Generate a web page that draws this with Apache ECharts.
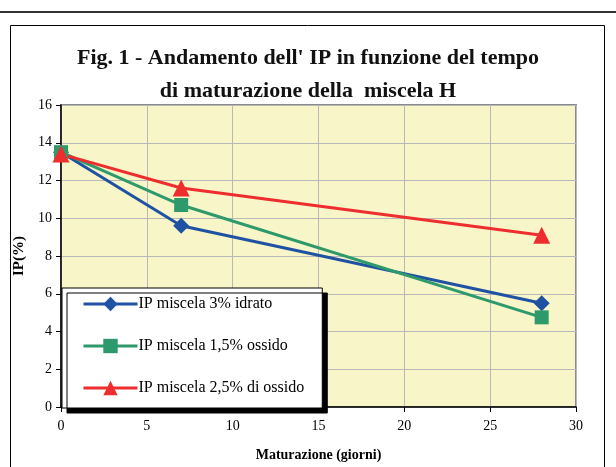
<!DOCTYPE html>
<html>
<head>
<meta charset="utf-8">
<script src="https://cdn.jsdelivr.net/npm/echarts@6/dist/echarts.min.js"></script>
<style>
  html, body { margin: 0; padding: 0; background: #fff; }
  #chart { width: 616px; height: 467px; }
</style>
</head>
<body>
<div id="chart"></div>
<script>
// giorni di maturazione
var days = [0, 7, 28];
// IP (%) per ciascuna miscela
var ipIdrato3 = [13.5, 9.6, 5.5];
var ipOssido15 = [13.5, 10.7, 4.75];
var ipOssido25 = [13.4, 11.6, 9.1];
var seriesNames = ['IP miscela 3% idrato', 'IP miscela 1,5% ossido', 'IP miscela 2,5% di ossido'];

var serif = '"Liberation Serif", "Times New Roman", serif';
var chart = echarts.init(document.getElementById('chart'));

function mkSeries(name, vals, color, symbol, size) {
    return {
        name: name,
        type: 'line',
        data: days.map(function(d, i) { return [d, vals[i]]; }),
        symbol: symbol,
        symbolSize: size,
        lineStyle: { color: color, width: 3 },
        itemStyle: { color: color },
        clip: false,
        animation: false
    };
}

chart.setOption({
    animation: false,
    title: {
        text: "Fig. 1 - Andamento dell' IP in funzione del tempo\ndi maturazione della  miscela H",
        left: 'center',
        top: 37,
        textStyle: { fontFamily: serif, fontSize: 22, fontWeight: 'bold', lineHeight: 33, color: '#111' }
    },
    graphic: [
        { type: 'line', shape: { x1: 0, y1: 12, x2: 616, y2: 12 }, style: { stroke: '#333', lineWidth: 2 } },
        { type: 'rect', shape: { x: 10.5, y: 25.5, width: 594, height: 460 }, style: { fill: 'none', stroke: '#000', lineWidth: 1 } }
    ],
    grid: {
        left: 61, right: 40, top: 105, bottom: 57,
        show: true,
        backgroundColor: '#F8F6C9',
        borderColor: '#8a8a8a',
        borderWidth: 2
    },
    legend: {
        orient: 'vertical',
        left: 62,
        top: 288,
        data: seriesNames,
        backgroundColor: '#fff',
        borderColor: '#000',
        borderWidth: 1,
        shadowColor: '#000',
        shadowBlur: 0,
        shadowOffsetX: 5,
        shadowOffsetY: 5,
        padding: [8, 18, 12, 20],
        itemGap: 26,
        itemWidth: 54,
        itemHeight: 18,
        lineStyle: { width: 3 },
        textStyle: { fontFamily: serif, fontSize: 16, color: '#000', padding: [0, 0, 0, -4] }
    },
    xAxis: {
        type: 'value',
        min: 0, max: 30, interval: 5,
        name: 'Maturazione (giorni)',
        nameLocation: 'middle',
        nameGap: 41,
        nameTextStyle: { fontFamily: serif, fontSize: 14, fontWeight: 'bold', color: '#000' },
        axisLine: { show: true, onZero: false, lineStyle: { color: '#000', width: 1.5 } },
        axisTick: { show: true, length: 5, lineStyle: { color: '#000' } },
        axisLabel: { fontFamily: serif, fontSize: 14, color: '#000', margin: 12 },
        splitLine: { show: true, lineStyle: { color: '#b8b8b8', width: 1 } }
    },
    yAxis: {
        type: 'value',
        min: 0, max: 16, interval: 2,
        name: 'IP(%)',
        nameLocation: 'middle',
        nameGap: 34,
        nameTextStyle: { fontFamily: serif, fontSize: 15, fontWeight: 'bold', color: '#000' },
        axisLine: { show: true, onZero: false, lineStyle: { color: '#000', width: 1.5 } },
        axisTick: { show: true, length: 5, lineStyle: { color: '#000' } },
        axisLabel: { fontFamily: serif, fontSize: 14, color: '#000', margin: 9 },
        splitLine: { show: true, lineStyle: { color: '#b8b8b8', width: 1 } }
    },
    series: [
        mkSeries(seriesNames[0], ipIdrato3, '#1F52A3', 'diamond', 16),
        mkSeries(seriesNames[1], ipOssido15, '#2E9A6C', 'rect', 14),
        mkSeries(seriesNames[2], ipOssido25, '#EE2E2E', 'triangle', 17)
    ]
});
</script>
</body>
</html>
